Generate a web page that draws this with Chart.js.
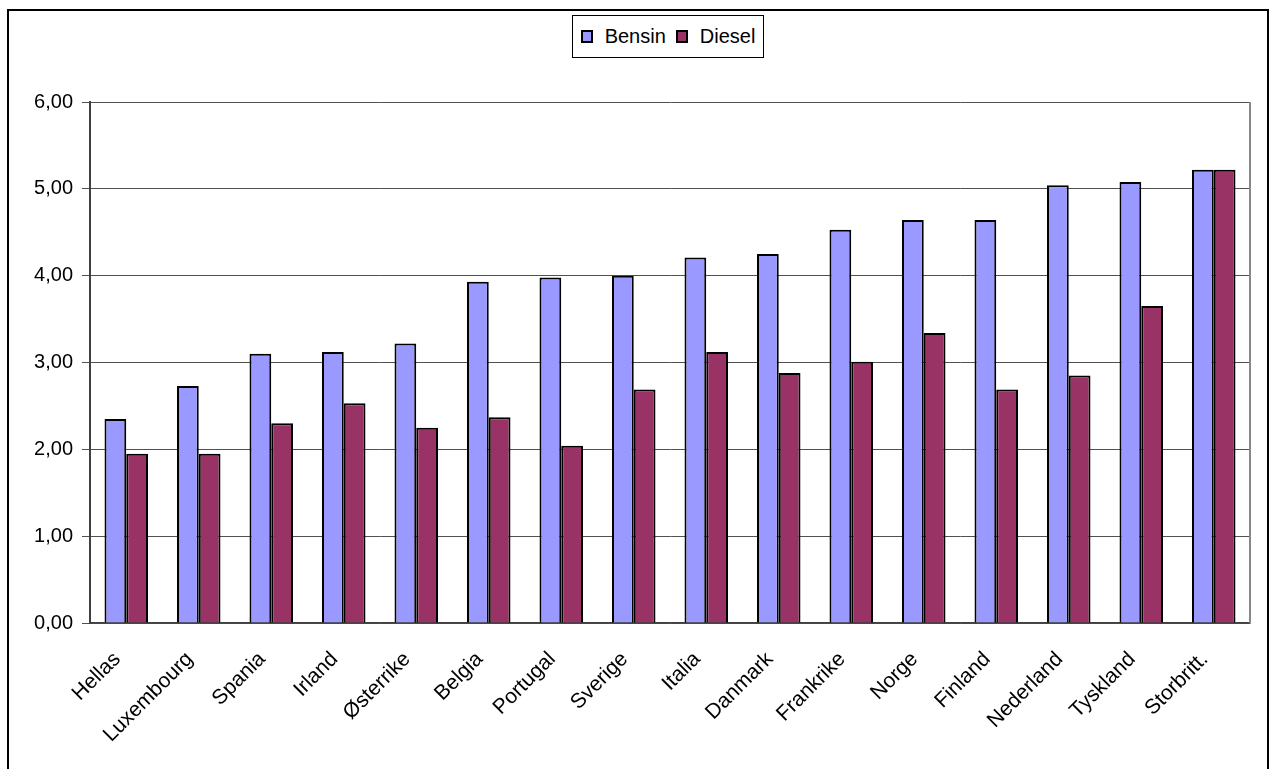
<!DOCTYPE html>
<html>
<head>
<meta charset="utf-8">
<title>Bensin og diesel</title>
<script src="https://cdn.jsdelivr.net/npm/chart.js@4.4.1/dist/chart.umd.min.js"></script>
<style>
  html, body { margin: 0; padding: 0; background: #fff; overflow: hidden; }
  #frame {
    position: absolute; left: 7px; top: 9px; width: 1262px; height: 800px;
    box-sizing: border-box; border: 2px solid #000;
  }
  #chart { position: absolute; left: 0; top: 0; }
  #legend {
    position: absolute; left: 572px; top: 15px; width: 192px; height: 43px;
    box-sizing: border-box; border: 1px solid #000; background: #fff;
    display: flex; align-items: center; justify-content: center;
    font: 20px "Liberation Sans", Arial, sans-serif; color: #000;
  }
  #legend .item { display: flex; align-items: center; margin: 0 5px; }
  #legend .box {
    display: inline-block; width: 8px; height: 9px; margin-right: 12px;
    border: 2px solid #000;
  }
</style>
</head>
<body>
<div id="frame"></div>
<canvas id="chart" width="1272" height="769"></canvas>
<div id="legend"></div>
<script>
const countries = [
  "Hellas", "Luxembourg", "Spania", "Irland", "Østerrike", "Belgia",
  "Portugal", "Sverige", "Italia", "Danmark", "Frankrike", "Norge",
  "Finland", "Nederland", "Tyskland", "Storbritt."
];
const bensin = [2.35, 2.73, 3.10, 3.12, 3.22, 3.93, 3.98, 4.00, 4.21, 4.25, 4.53, 4.64, 4.64, 5.04, 5.08, 5.22];
const diesel = [1.95, 1.95, 2.30, 2.53, 2.25, 2.37, 2.04, 2.69, 3.12, 2.88, 3.01, 3.34, 2.69, 2.85, 3.65, 5.22];
const yTicks = [0, 1, 2, 3, 4, 5, 6];

const font = { family: "'Liberation Sans', Arial, sans-serif", size: 20 };

// grey line closing the plot area on the right
const rightEdge = {
  id: "rightEdge",
  beforeDatasetsDraw(chart) {
    const { ctx, chartArea } = chart;
    ctx.save();
    ctx.strokeStyle = "#888";
    ctx.lineWidth = 2;
    ctx.beginPath();
    ctx.moveTo(chartArea.right, chartArea.top);
    ctx.lineTo(chartArea.right, chartArea.bottom);
    ctx.stroke();
    ctx.restore();
  },
};

const chart = new Chart(document.getElementById("chart"), {
  type: "bar",
  data: {
    labels: countries,
    datasets: [
      {
        label: "Bensin",
        data: bensin,
        backgroundColor: "#9999FF",
        borderColor: "#000",
        borderWidth: 2,
      },
      {
        label: "Diesel",
        data: diesel,
        backgroundColor: "#993366",
        borderColor: "#000",
        borderWidth: 2,
      },
    ],
  },
  options: {
    responsive: false,
    animation: false,
    layout: { padding: { top: 102, right: 22, left: 0, bottom: 0 } },
    datasets: { bar: { categoryPercentage: 0.6, barPercentage: 1 } },
    plugins: {
      legend: { display: false },
      tooltip: { enabled: false },
    },
    scales: {
      x: {
        grid: { display: false },
        border: { color: "#404040", width: 1.5 },
        ticks: {
          color: "#000",
          font: { ...font, size: 21 },
          maxRotation: 45,
          minRotation: 45,
          autoSkip: false,
          padding: 16,
          labelOffset: -9,
        },
        afterFit(scale) {
          scale.height = 146;
          scale.paddingLeft = 0;
          scale.paddingRight = 0;
        },
      },
      y: {
        min: 0,
        max: 6,
        afterBuildTicks(scale) {
          scale.ticks = yTicks.map((v) => ({ value: v }));
        },
        grid: { color: "#505050", lineWidth: 1, tickLength: 8 },
        border: { color: "#404040", width: 2 },
        ticks: {
          color: "#000",
          font: font,
          padding: 9,
          callback: (v) => v.toFixed(2).replace(".", ","),
        },
        afterFit(scale) {
          scale.width = 90;
          scale.paddingTop = 0;
          scale.paddingBottom = 0;
        },
      },
    },
  },
  plugins: [rightEdge],
});

// legend built from the dataset colours
const legend = document.getElementById("legend");
chart.data.datasets.forEach((ds) => {
  const item = document.createElement("span");
  item.className = "item";
  const box = document.createElement("span");
  box.className = "box";
  box.style.background = ds.backgroundColor;
  item.appendChild(box);
  item.appendChild(document.createTextNode(ds.label));
  legend.appendChild(item);
});
</script>
</body>
</html>
